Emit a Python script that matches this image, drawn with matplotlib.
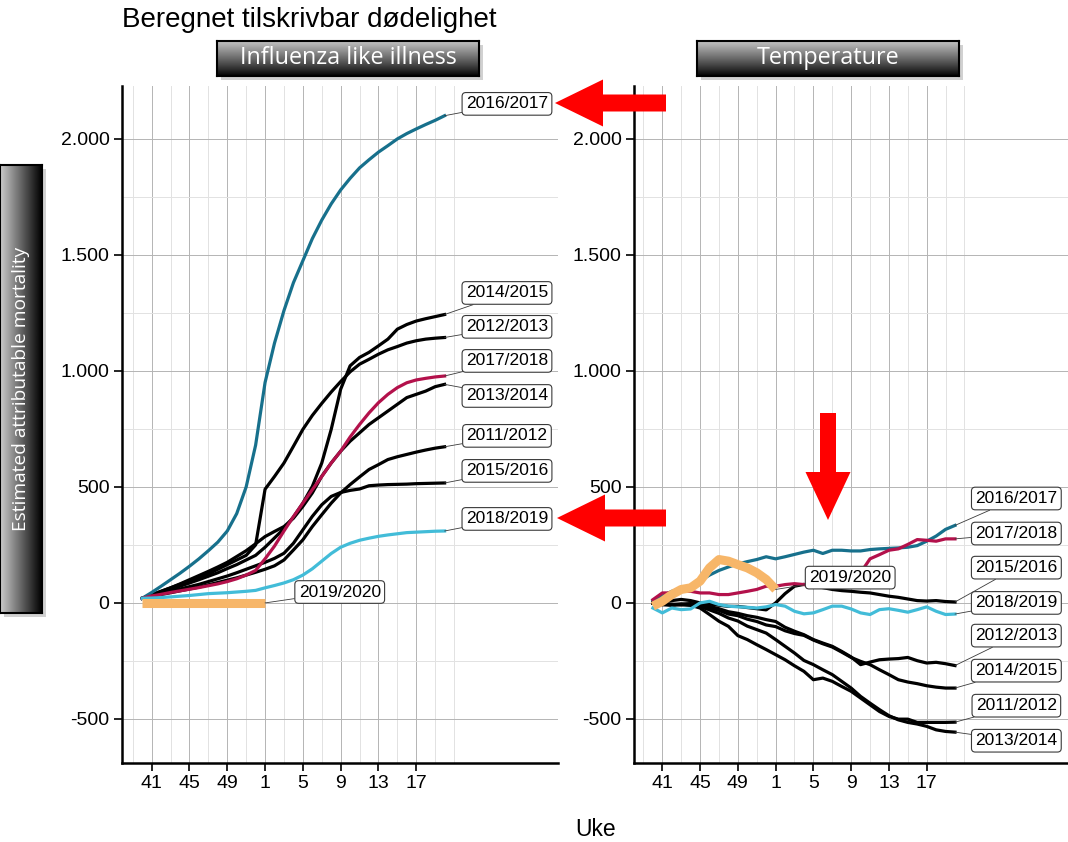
import numpy as np
import matplotlib
matplotlib.use("Agg")
import matplotlib.pyplot as plt
from matplotlib.patches import Polygon, Rectangle
from matplotlib.ticker import FuncFormatter

plt.rcParams['font.family'] = ['Liberation Sans', 'DejaVu Sans']

# ---- data -------------------------------------------------------------
weeks = [40, 41, 42, 43, 44, 45, 46, 47, 48, 49, 50, 51, 52,
         1, 2, 3, 4, 5, 6, 7, 8, 9, 10, 11, 12, 13, 14, 15, 16, 17, 18, 19, 20]
tick_weeks = [41, 45, 49, 1, 5, 9, 13, 17]
y_ticks = [-500, 0, 500, 1000, 1500, 2000]

# Influenza like illness
ili_1112 = [20, 28, 36, 44, 52, 60, 68, 78, 88, 98, 108, 120, 132, 145, 160, 185, 228,
            272, 329, 380, 430, 474, 510, 543, 575, 596, 618, 630, 640, 650, 659, 667, 673]
ili_1213 = [20, 35, 50, 65, 80, 95, 110, 125, 145, 165, 185, 205, 250, 490, 545, 603, 675,
            748, 808, 860, 909, 954, 996, 1029, 1050, 1072, 1091, 1105, 1120, 1130, 1137, 1141, 1144]
ili_1314 = [20, 35, 50, 65, 82, 100, 118, 136, 155, 175, 200, 225, 255, 286, 308, 329, 365,
            416, 474, 546, 603, 654, 697, 733, 769, 798, 827, 856, 885, 899, 913, 932, 942]
ili_1415 = [20, 32, 45, 58, 72, 86, 100, 115, 130, 148, 165, 185, 205, 240, 280, 320, 370,
            430, 502, 603, 748, 921, 1022, 1058, 1080, 1108, 1137, 1180, 1200, 1215, 1225, 1234, 1243]
ili_1516 = [20, 30, 40, 50, 60, 70, 80, 92, 104, 116, 130, 145, 160, 175, 192, 214, 257,
            315, 373, 423, 459, 476, 485, 491, 505, 508, 510, 511, 512, 514, 515, 516, 517]
ili_1617 = [20, 45, 72, 100, 128, 158, 190, 225, 262, 310, 385, 500, 680, 950, 1120, 1260, 1380,
            1475, 1570, 1650, 1720, 1780, 1830, 1875, 1910, 1943, 1971, 2000, 2023, 2043, 2062, 2080, 2100]
ili_1718 = [20, 30, 37, 45, 52, 59, 66, 74, 82, 92, 104, 120, 140, 190, 245, 310, 372,
            430, 488, 545, 603, 654, 715, 769, 819, 863, 899, 928, 949, 961, 968, 974, 978]
ili_1819 = [20, 21, 23, 26, 29, 32, 36, 40, 42, 44, 47, 50, 54, 65, 75, 86, 100,
            120, 147, 180, 213, 240, 257, 270, 279, 287, 293, 298, 303, 305, 307, 309, 310]
ili_1920 = [0, 0, 0, 0, 0, 0, 0, 0, 0, 0, 0, 0, 0, 0]

# Temperature
tmp_1112 = [0, -5, -8, -5, -10, -22, -50, -79, -101, -141, -158, -180, -201, -223, -245, -271, -295,
            -331, -324, -338, -360, -381, -410, -439, -468, -489, -501, -501, -515, -515, -515, -515, -514]
tmp_1213 = [0, -5, -8, -5, -3, -5, -15, -25, -38, -45, -55, -62, -72, -80, -105, -122, -137,
            -158, -173, -187, -209, -233, -266, -255, -245, -242, -240, -235, -249, -259, -256, -262, -270]
tmp_1314 = [0, -3, -5, -8, -10, -15, -30, -45, -65, -78, -100, -115, -130, -158, -187, -216, -248,
            -266, -288, -309, -338, -367, -403, -432, -460, -486, -504, -515, -522, -532, -547, -554, -557]
tmp_1415 = [0, -8, -10, -8, -5, -10, -20, -32, -48, -55, -70, -80, -95, -102, -120, -132, -140,
            -160, -176, -190, -212, -235, -252, -266, -288, -309, -331, -341, -348, -357, -363, -367, -367]
tmp_1516 = [0, 5, 10, 15, 10, 0, -5, -10, -15, -15, -20, -25, -30, 0, 40, 72, 80,
            72, 66, 58, 53, 50, 46, 43, 36, 29, 24, 17, 10, 8, 10, 6, 4]
tmp_1617 = [10, 30, 50, 60, 70, 95, 120, 140, 155, 168, 178, 187, 199, 190, 199, 209, 219,
            227, 213, 227, 227, 224, 224, 230, 233, 235, 237, 240, 247, 266, 288, 317, 334]
tmp_1718 = [14, 43, 43, 50, 50, 43, 43, 36, 36, 43, 50, 58, 72, 72, 79, 83, 79,
            78, 80, 85, 90, 100, 130, 190, 208, 227, 233, 252, 273, 270, 266, 276, 276]
tmp_1819 = [-22, -43, -22, -29, -26, 0, 7, -7, -14, -17, -19, -22, -17, -7, -14, -36, -47,
            -43, -29, -14, -14, -26, -43, -50, -29, -25, -32, -40, -29, -17, -36, -50, -48]
tmp_1920 = [-14, 7, 36, 58, 65, 94, 151, 187, 180, 165, 151, 130, 101, 58]

seasons = ["2011/2012", "2012/2013", "2013/2014", "2014/2015", "2015/2016",
           "2016/2017", "2017/2018", "2018/2019", "2019/2020"]
ili = [ili_1112, ili_1213, ili_1314, ili_1415, ili_1516, ili_1617, ili_1718, ili_1819, ili_1920]
tmp = [tmp_1112, tmp_1213, tmp_1314, tmp_1415, tmp_1516, tmp_1617, tmp_1718, tmp_1819, tmp_1920]

# label box positions (y in data units)
ili_label_y = {"2016/2017": 2151, "2014/2015": 1336, "2012/2013": 1190, "2017/2018": 1043,
               "2013/2014": 892, "2011/2012": 720, "2015/2016": 569, "2018/2019": 362,
               "2019/2020": 47}
tmp_label_y = {"2016/2017": 450, "2017/2018": 299, "2015/2016": 152, "2018/2019": 0,
               "2012/2013": -141, "2014/2015": -292, "2011/2012": -443, "2013/2014": -594,
               "2019/2020": 109}

colors = {"2016/2017": "#17708c", "2017/2018": "#b3114b", "2018/2019": "#42bcd8",
          "2019/2020": "#f7b669"}

W, H = 1068, 842
fig = plt.figure(figsize=(W / 100, H / 100), dpi=100)

def fx(px):
    return px / W

def fy(py):
    return 1 - py / H

ax1 = fig.add_axes([fx(122), fy(763), fx(436), (763 - 86) / H])
ax2 = fig.add_axes([fx(634), fy(763), fx(434), (763 - 86) / H])

xpos = np.arange(len(weeks))
major_x = [weeks.index(w) for w in tick_weeks]
minor_x = [p for p in range(-1, 34, 2) if p not in major_x]


def style_axis(ax, xlim):
    ax.set_xlim(*xlim)
    ax.set_ylim(-690, 2228)
    ax.set_xticks(major_x)
    ax.set_xticklabels([str(w) for w in tick_weeks])
    ax.set_xticks(minor_x, minor=True)
    ax.set_yticks(y_ticks)
    ax.set_yticks([-250, 250, 750, 1250, 1750], minor=True)
    ax.yaxis.set_major_formatter(FuncFormatter(lambda v, p: f"{int(v):,}".replace(",", ".")))
    ax.grid(which='major', color='#b4b4b4', lw=0.7)
    ax.grid(which='minor', color='#e2e2e2', lw=0.7)
    ax.set_axisbelow(True)
    for s in ['top', 'right']:
        ax.spines[s].set_visible(False)
    for s in ['left', 'bottom']:
        ax.spines[s].set_linewidth(1.8)
    ax.tick_params(which='major', length=6, width=1.2, labelsize=14, pad=3)
    ax.tick_params(which='minor', length=0)


def draw_panel(ax, series, label_y, label_x):
    for name, vals in zip(seasons, series):
        n = len(vals)
        if name == "2019/2020":
            ax.plot(xpos[:n], vals, color=colors[name], lw=6.5, solid_capstyle='butt', zorder=5)
        elif name in colors:
            ax.plot(xpos[:n], vals, color=colors[name], lw=2.3, zorder=4)
        else:
            ax.plot(xpos[:n], vals, color='black', lw=2.3, zorder=3)
    for name, vals in zip(seasons, series):
        n = len(vals)
        lx = 20.9 if name == "2019/2020" else label_x
        ax.annotate(name, xy=(xpos[n - 1], vals[-1]), xytext=(lx, label_y[name]),
                    ha='center', va='center', fontsize=12.5, zorder=6,
                    bbox=dict(boxstyle='round,pad=0.22', fc='white', ec='#3a3a3a', lw=0.8),
                    arrowprops=dict(arrowstyle='-', color='#3a3a3a', lw=0.6,
                                    shrinkA=0, shrinkB=0),
                    annotation_clip=False)


style_axis(ax1, (-2.14, 44.0))
style_axis(ax2, (-2.0, 43.97))
draw_panel(ax1, ili, ili_label_y, 38.6)
draw_panel(ax2, tmp, tmp_label_y, 38.5)


def gradient_box(rect, text, horizontal=False, fontsize=16, rotation=0):
    x0, y0, w, h = rect
    fig.add_artist(Rectangle((x0 + fx(4), y0 - 4 / H), w, h, transform=fig.transFigure,
                             fc='#9a9a9a', ec='none', alpha=0.45, zorder=1))
    bax = fig.add_axes(rect, zorder=2)
    if horizontal:
        grad = np.linspace(0.8, 0.0, 256).reshape(1, -1)
    else:
        grad = (np.linspace(0.74, 0.0, 256) ** 0.9).reshape(-1, 1)
    bax.imshow(grad, cmap='gray', vmin=0, vmax=1, aspect='auto', extent=[0, 1, 0, 1])
    bax.set_xticks([])
    bax.set_yticks([])
    for s in bax.spines.values():
        s.set_linewidth(1.5)
        s.set_color('black')
    bax.text(0.5, 0.5, text, color='white', fontsize=fontsize, ha='center', va='center',
             rotation=rotation, family=['Open Sans', 'DejaVu Sans'], transform=bax.transAxes)


gradient_box([fx(217), fy(76), fx(262), 35 / H], "Influenza like illness", fontsize=16.8)
gradient_box([fx(697), fy(76), fx(262), 35 / H], "Temperature", fontsize=16.8)
gradient_box([fx(0), fy(613), fx(42), 448 / H], "Estimated attributable mortality",
             horizontal=True, fontsize=13.8, rotation=90)

fig.text(fx(122), fy(20), "Beregnet tilskrivbar dødelighet", fontsize=20, va='center', ha='left')
fig.text(fx(596), fy(830), "Uke", fontsize=16.5, va='center', ha='center')


def left_arrow(tip_x, tip_y):
    pts = [(tip_x, tip_y), (tip_x + 48, tip_y - 23.5), (tip_x + 48, tip_y - 8.5),
           (666, tip_y - 8.5), (666, tip_y + 8.5), (tip_x + 48, tip_y + 8.5),
           (tip_x + 48, tip_y + 23.5)]
    fig.add_artist(Polygon([(fx(a), fy(b)) for a, b in pts], closed=True,
                           transform=fig.transFigure, fc='#ff0000', ec='none', zorder=10))


def down_arrow(tip_x, tip_y):
    pts = [(tip_x, tip_y), (tip_x - 22.5, tip_y - 48), (tip_x - 8, tip_y - 48),
           (tip_x - 8, 413), (tip_x + 8, 413), (tip_x + 8, tip_y - 48),
           (tip_x + 22.5, tip_y - 48)]
    fig.add_artist(Polygon([(fx(a), fy(b)) for a, b in pts], closed=True,
                           transform=fig.transFigure, fc='#ff0000', ec='none', zorder=10))


left_arrow(555, 103)
left_arrow(557, 518)
down_arrow(828, 520)

fig.savefig("out.png", dpi=100)
